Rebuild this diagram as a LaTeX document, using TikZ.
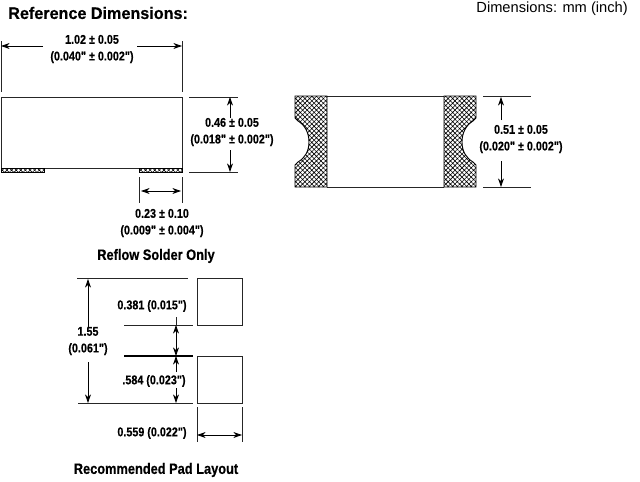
\documentclass[tikz,border=0pt]{standalone}
\usepackage{fontspec}
\setmainfont{Liberation Sans}
\newfontfamily\narrowfont[FakeStretch=.85,FakeBold=.4]{Liberation Sans Bold}
\newfontfamily\titlefont[FakeStretch=.97,FakeBold=.4]{Liberation Sans Bold}
\usetikzlibrary{arrows.meta,patterns.meta}
\tikzset{
	dimlabel/.style={align=center,inner sep=0pt,font=\narrowfont\fontsize{9.5}{12.5}\selectfont},
	caption/.style={inner sep=0pt,font=\narrowfont\fontsize{11.3}{13}\selectfont},
	dimline/.style={black!85,line width=.6pt},
	dimarrow/.style={black,line width=.6pt,-{Stealth[length=6.5pt,width=4.5pt]}},
	bothways/.style={black,line width=.6pt,{Stealth[length=6.5pt,width=4.5pt]}-{Stealth[length=6.5pt,width=4.5pt]}},
	body/.style={black!85,line width=.7pt},
	hatched/.style={draw=black,line width=.7pt,pattern={Hatch[angle=45,distance=2.45pt,line width=.45pt]}}
}
\begin{document}
\begin{tikzpicture}[x=.75pt,y=-.75pt]

\useasboundingbox (0,0) rectangle (640,482);

\node[anchor=west,inner sep=0pt,font=\titlefont\fontsize{12.5}{14}\selectfont] (title) at (8,13) {Reference Dimensions:};
\node[anchor=east,inner sep=0pt,font=\fontsize{11}{12}\selectfont] (units) at (628,9) {Dimensions: mm (inch)};

% side view
\draw[body] (1,97) rectangle (182,168);
\draw[hatched] (1,168) rectangle (44,172);
\draw[hatched] (139,168) rectangle (182,172);

\foreach \x in {1,182} {
	\draw[dimline] (\x,41) -- (\x,92);
}
\draw[dimarrow] (43,46) -- (1,46);
\draw[dimarrow] (137,46) -- (182,46);
\node[dimlabel] (width) at (92,49) {1.02 ± 0.05\\(0.040" ± 0.002")};

\foreach \y in {97,172} {
	\draw[dimline] (189,\y) -- (238,\y);
}
\draw[dimarrow] (230,118) -- (230,97);
\draw[dimarrow] (230,150) -- (230,172);
\node[dimlabel] (height) at (232,132) {0.46 ± 0.05\\(0.018" ± 0.002")};

\foreach \x in {139,182} {
	\draw[dimline] (\x,177) -- (\x,203);
}
\draw[bothways] (141,191) -- (181,191);
\node[dimlabel] (term) at (162,223) {0.23 ± 0.10\\(0.009" ± 0.004")};

\node[caption] (reflow) at (156,256) {Reflow Solder Only};

% top view
\draw[body] (327,96) -- (444,96);
\draw[body] (327,187) -- (444,187);
\draw[hatched] (295,96) -- (327,96) -- (327,187) -- (295,187) -- (295,165) -- (298,162)
	.. controls (305,158) and (309,151) .. (309,142) .. controls (309,133) and (305,125) .. (298,121) -- (295,118) -- cycle;
\draw[hatched] (476,96) -- (444,96) -- (444,187) -- (476,187) -- (476,165) -- (473,162)
	.. controls (466,158) and (462,151) .. (462,142) .. controls (462,133) and (466,125) .. (473,121) -- (476,118) -- cycle;

\foreach \y in {96,187} {
	\draw[dimline] (483,\y) -- (531,\y);
}
\draw[dimarrow] (501,120) -- (501,97);
\draw[dimarrow] (501,161) -- (501,187);
\node[dimlabel] (depth) at (521,139) {0.51 ± 0.05\\(0.020" ± 0.002")};

% pad layout
\foreach \y in {278,356} {
	\draw[body] (197,\y) rectangle (242,\y+47);
}
\draw[dimline] (77,278) -- (188,278);
\draw[dimline] (124,325) -- (193,325);
\draw[black,line width=1.2pt] (124,356) -- (193,356);
\draw[dimline] (78,403) -- (193,403);

\draw[dimarrow] (88,328) -- (88,279);
\draw[dimarrow] (88,362) -- (88,403);
\node[dimlabel] (total) at (88,341) {1.55\\(0.061")};

\draw[dimline] (176,317) -- (176,325);
\draw[bothways] (176,325) -- (176,356);
\draw[dimarrow] (176,372) -- (176,356);
\draw[dimarrow] (176,388) -- (176,403);
\node[dimlabel] (gap) at (152,306) {0.381 (0.015")};
\node[dimlabel] (padh) at (154,381) {.584 (0.023")};
\node[dimlabel] (padw) at (152,433) {0.559 (0.022")};

\foreach \x in {197,242} {
	\draw[dimline] (\x,407) -- (\x,442);
}
\draw[bothways] (197,435) -- (242,435);

\node[caption] (layout) at (156,470) {Recommended Pad Layout};

\end{tikzpicture}
\end{document}
